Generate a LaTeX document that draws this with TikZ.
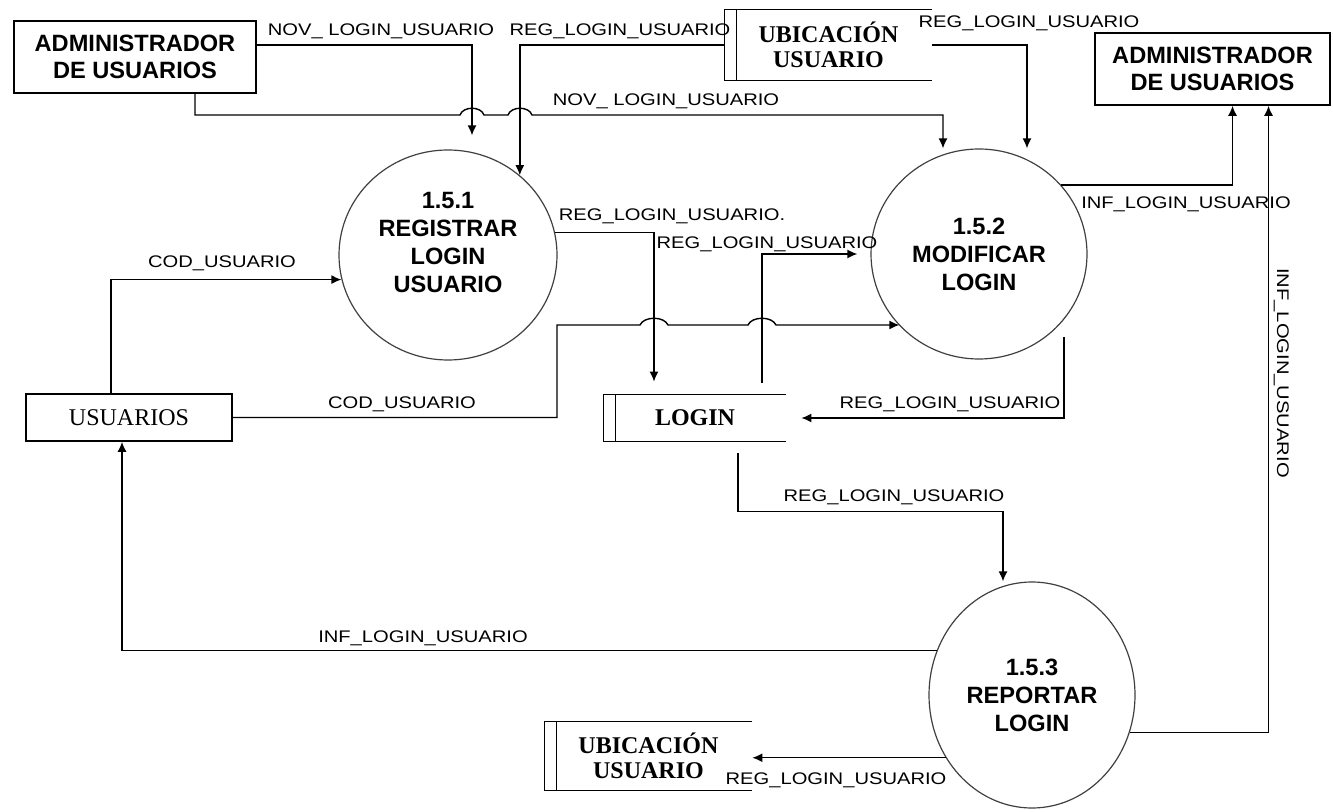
\documentclass[tikz,border=0pt]{standalone}
\usepackage{fontspec}
\setmainfont{Liberation Serif}
\setsansfont{Liberation Sans}
\newfontfamily\etiqfont[FakeStretch=1.2]{Liberation Sans}
\usetikzlibrary{shapes.geometric,arrows.meta}

\tikzset{
  entidad/.style={draw, line width=0.8pt, inner sep=0pt, align=center,
    font=\sffamily\bfseries\fontsize{11.8}{13.8}\selectfont},
  proceso/.style={ellipse, draw=black!75, line width=0.6pt, inner sep=0pt, align=center,
    font=\sffamily\bfseries\fontsize{11.8}{14}\selectfont},
  almacen/.style={inner sep=0pt, align=center, font=\bfseries\fontsize{12}{12.5}\selectfont},
  flujo/.style={line width=0.7pt, -{Latex[length=5pt,width=4.5pt]}},
  linea/.style={line width=0.7pt},
  etiq/.style={inner sep=0pt, text depth=0pt, font=\etiqfont\fontsize{8.4}{10}\selectfont},
}
% data store: open on the right
\newcommand{\dibujaralmacen}[1]{%
  \draw[linea] (#1.north east) -- (#1.north west) -- (#1.south west) -- (#1.south east);
  \draw[linea] ([xshift=6pt]#1.north west) -- ([xshift=6pt]#1.south west);}

\begin{document}
\begin{tikzpicture}[x=0.5pt, y=-0.5pt]
  \useasboundingbox (0,0) rectangle (1333,812);

  % External entities
  \node[entidad, minimum width=121pt, minimum height=36pt] (adminL) at (135,57) {ADMINISTRADOR\\DE USUARIOS};
  \node[entidad, minimum width=117.5pt, minimum height=36pt] (adminR) at (1212.5,69) {ADMINISTRADOR\\DE USUARIOS};
  \node[draw, line width=0.8pt, inner sep=0pt, minimum width=103pt, minimum height=23.5pt,
        font=\fontsize{12}{14}\selectfont] (usuarios) at (129,417.5) {USUARIOS};

  % Processes
  \node[proceso, minimum width=109pt, minimum height=105pt, text depth=13pt] (p151) at (448,255) {1.5.1\\REGISTRAR\\LOGIN\\USUARIO};
  \node[proceso, minimum width=108pt, minimum height=105pt] (p152) at (979,254) {1.5.2\\MODIFICAR\\LOGIN};
  \node[proceso, minimum width=103pt, minimum height=113pt] (p153) at (1032,695) {1.5.3\\REPORTAR\\LOGIN};

  % Data stores
  \node[almacen, minimum width=103.5pt, minimum height=35pt] (ubicT) at (828.5,45) {UBICACIÓN\\USUARIO};
  \node[almacen, minimum width=91pt, minimum height=23pt] (login) at (695,418) {LOGIN};
  \node[almacen, minimum width=103.5pt, minimum height=34pt] (ubicB) at (648.5,756) {UBICACIÓN\\USUARIO};
  \dibujaralmacen{ubicT}
  \dibujaralmacen{login}
  \dibujaralmacen{ubicB}

  % Flows into 1.5.1
  \draw[flujo] ([yshift=6pt]adminL.east) -| ([shift={(12pt,7pt)}]p151.north);
  \draw[flujo] (ubicT.west) -| (p151.48);
  \draw[flujo] ([xshift=-9pt]usuarios.north) |- (p151.-167);

  % Flows into 1.5.2 (with line hops)
  \draw[flujo] ([xshift=30pt]adminL.south) |- (460,115)
    .. controls (463,106) and (481,106) .. (484,115) -- (508,115)
    .. controls (511,106) and (529,106) .. (532,115)
    -| ([xshift=-18pt]p152.north);
  \draw[flujo] (ubicT.east) -| ([xshift=24pt]p152.north);
  \draw[flujo] (usuarios.east) -| (557,325) -- (640,325)
    .. controls (644,316) and (664,316) .. (668,325) -- (748,325)
    .. controls (752,316) and (772,316) .. (776,325)
    -- (p152.-138 |- 0,325);
  \draw[flujo] ([shift={(33.5pt,6pt)}]login.north) |- ([xshift=-6.5pt]p152.west);

  % Flows to LOGIN
  \draw[flujo] (p151.12) -| ([shift={(-20.5pt,6.5pt)}]login.north);
  \draw[flujo] ([shift={(42.5pt,-41.5pt)}]p152.center) |- ([xshift=7.5pt]login.east);

  % Flows out of 1.5.2 and 1.5.3
  \draw[flujo] (p152.40) -| ([xshift=10pt]adminR.south);
  \draw[flujo] (p153.-21) -| ([xshift=28pt]adminR.south);
  \draw[flujo] ([shift={(21.5pt,-6pt)}]login.south) -- ++(0,58) -| ([xshift=-14.5pt]p153.north);
  \draw[flujo] (p153.155) -| ([xshift=-3.5pt]usuarios.south);
  \draw[flujo] (p153.-144) -- (p153.-144 -| ubicB.east);

  % Flow labels
  \node[etiq] (e1) at (381,30) {NOV\_ LOGIN\_USUARIO};
  \node[etiq] (e2) at (620,30) {REG\_LOGIN\_USUARIO};
  \node[etiq] (e3) at (1029,22) {REG\_LOGIN\_USUARIO};
  \node[etiq] (e4) at (666,100) {NOV\_ LOGIN\_USUARIO};
  \node[etiq] (e5) at (1186,203) {INF\_LOGIN\_USUARIO};
  \node[etiq] (e6) at (672,215) {REG\_LOGIN\_USUARIO.};
  \node[etiq] (e7) at (767,243) {REG\_LOGIN\_USUARIO};
  \node[etiq] (e8) at (222,262) {COD\_USUARIO};
  \node[etiq] (e9) at (402,403) {COD\_USUARIO};
  \node[etiq] (e10) at (950,403) {REG\_LOGIN\_USUARIO};
  \node[etiq] (e11) at (894,496) {REG\_LOGIN\_USUARIO};
  \node[etiq] (e12) at (423,637) {INF\_LOGIN\_USUARIO};
  \node[etiq] (e13) at (836,779) {REG\_LOGIN\_USUARIO};
  \node[etiq, rotate=-90] (e14) at (1283,373) {INF\_LOGIN\_USUARIO};
\end{tikzpicture}
\end{document}
